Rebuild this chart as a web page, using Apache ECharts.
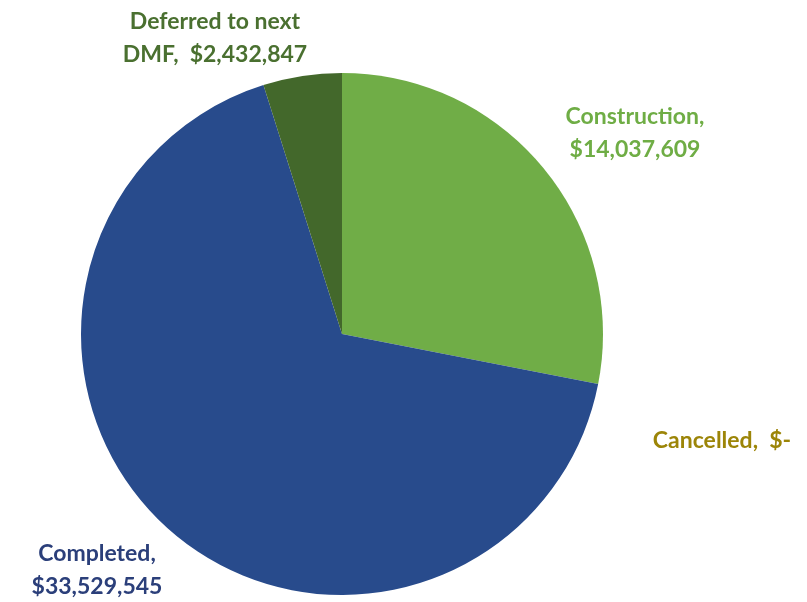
<!DOCTYPE html>
<html><head><meta charset="utf-8">
<script src="https://cdn.jsdelivr.net/npm/echarts@6/dist/echarts.min.js"></script>
<style>html,body{margin:0;padding:0;background:#fff;}#c{width:807px;height:602px;}</style>
</head><body><div id="c"></div>
<script>
const categories = ['Construction', 'Cancelled', 'Completed', 'Deferred to next DMF'];
const values = [14037609, 0, 33529545, 2432847];
const labelTexts = ['Construction,\n$14,037,609', 'Cancelled,  $-', 'Completed,\n$33,529,545', 'Deferred to next\nDMF,  $2,432,847'];
const sliceColors = ['#70AD47', '#A5A5A5', '#284B8C', '#43682B'];
const labelColors = ['#6FAD45', '#9C8508', '#2B3F7A', '#4A7030'];
const labelPos = [[635, 133], [722, 441], [97, 570], [215, 38]];

const chart = echarts.init(document.getElementById('c'));
chart.setOption({
  animation: false,
  series: [{
    type: 'pie',
    center: [342, 334],
    radius: 261,
    startAngle: 90,
    clockwise: true,
    minShowLabelAngle: 0,
    stillShowZeroSum: true,
    labelLine: { show: false },
    label: {
      show: true,
      fontFamily: 'Lato',
      fontWeight: 'bold',
      fontSize: 23,
      lineHeight: 33,
      align: 'center',
      overflow: 'none',
      width: 300,
      formatter: p => labelTexts[p.dataIndex]
    },
    labelLayout: p => ({
      x: labelPos[p.dataIndex][0],
      y: labelPos[p.dataIndex][1],
      align: 'center',
      verticalAlign: 'middle'
    }),
    emphasis: { disabled: true },
    data: categories.map((c, i) => ({
      name: c, value: values[i],
      itemStyle: { color: sliceColors[i] },
      label: { color: labelColors[i] }
    }))
  }]
});
</script></body></html>
